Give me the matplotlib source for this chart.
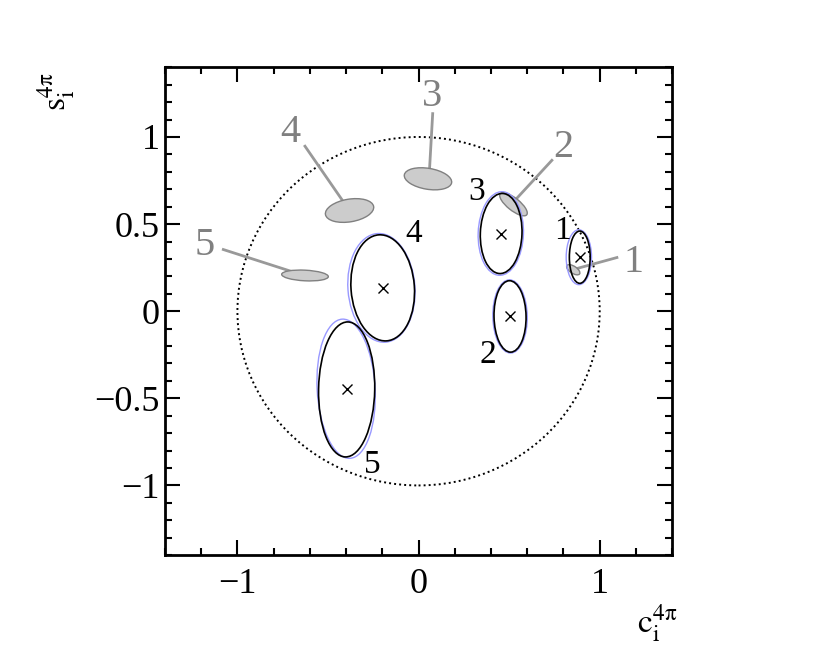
import numpy as np
import matplotlib.pyplot as plt
from matplotlib.patches import Ellipse, Circle
from matplotlib.ticker import MultipleLocator, FuncFormatter

plt.rcParams['font.family'] = ['Liberation Serif', 'DejaVu Serif']
plt.rcParams['mathtext.fontset'] = 'stix'

# Fitted solutions (black), alternative fit (blue)
labels = ['1', '2', '3', '4', '5']
fit_x = [0.89, 0.505, 0.456, -0.198, -0.397]
fit_y = [0.31, -0.03, 0.446, 0.134, -0.449]
fit_w = [0.115, 0.177, 0.23, 0.35, 0.31]
fit_h = [0.30, 0.41, 0.46, 0.61, 0.775]
fit_ang = [0, 1, -2, 4, -1]

alt_x = [0.885, 0.505, 0.454, -0.205, -0.400]
alt_y = [0.31, -0.03, 0.446, 0.134, -0.445]
alt_w = [0.14, 0.19, 0.25, 0.37, 0.32]
alt_h = [0.315, 0.42, 0.48, 0.625, 0.80]
alt_ang = [0, 1, -2, 4, 3]

fit_lab_x = [0.793, 0.384, 0.318, -0.025, -0.257]
fit_lab_y = [0.459, -0.252, 0.688, 0.442, -0.884]

# Previous measurement (grey)
ref_x = [0.854, 0.524, 0.052, -0.381, -0.627]
ref_y = [0.238, 0.614, 0.76, 0.578, 0.205]
ref_w = [0.085, 0.19, 0.265, 0.27, 0.258]
ref_h = [0.04, 0.07, 0.12, 0.13, 0.061]
ref_ang = [-35, -40, -10, 10, -3]

ref_lab_x = [1.185, 0.798, 0.075, -0.71, -1.18]
ref_lab_y = [0.281, 0.941, 1.233, 1.027, 0.379]
lead_x0 = [1.095, 0.736, 0.078, -0.627, -1.078]
lead_y0 = [0.308, 0.866, 1.134, 0.947, 0.354]
lead_x1 = [0.874, 0.546, 0.060, -0.421, -0.71]
lead_y1 = [0.245, 0.652, 0.805, 0.637, 0.231]

fig = plt.figure(figsize=(8.22, 6.47), dpi=100)
ax = fig.add_axes([0.2007, 0.142, 0.617, 0.754])

ax.add_patch(Circle((0, 0), 1, fill=False, ls=(0, (1, 1.6)), lw=1.4, color='black'))

for i in range(5):
    ax.add_patch(Ellipse((ref_x[i], ref_y[i]), ref_w[i], ref_h[i], angle=ref_ang[i],
                         facecolor='#cccccc', edgecolor='#808080', lw=1.0, zorder=2))
    ax.plot([lead_x0[i], lead_x1[i]], [lead_y0[i], lead_y1[i]], color='#999999', lw=2, zorder=1)
    ax.text(ref_lab_x[i], ref_lab_y[i], labels[i], color='#808080', fontsize=29,
            ha='center', va='center')

for i in range(5):
    ax.add_patch(Ellipse((alt_x[i], alt_y[i]), alt_w[i], alt_h[i], angle=alt_ang[i],
                         fill=False, edgecolor='#9999ff', lw=1.0, zorder=3))
    ax.add_patch(Ellipse((fit_x[i], fit_y[i]), fit_w[i], fit_h[i], angle=fit_ang[i],
                         fill=False, edgecolor='black', lw=1.2, zorder=4))
    ax.plot(fit_x[i], fit_y[i], marker='x', color='black', ms=7, mew=1.0, zorder=5)
    ax.text(fit_lab_x[i], fit_lab_y[i], labels[i], color='black', fontsize=24,
            ha='center', va='center')

ax.set_xlim(-1.4, 1.4)
ax.set_ylim(-1.4, 1.4)
ax.xaxis.set_major_locator(MultipleLocator(1))
ax.xaxis.set_minor_locator(MultipleLocator(0.2))
ax.yaxis.set_major_locator(MultipleLocator(0.5))
ax.yaxis.set_minor_locator(MultipleLocator(0.1))
fmt = FuncFormatter(lambda v, p: ('%g' % round(v, 2)).replace('-', '\u2212'))
ax.xaxis.set_major_formatter(fmt)
ax.yaxis.set_major_formatter(fmt)
ax.tick_params(which='both', direction='in', top=True, right=True, width=1.5, labelsize=26)
ax.tick_params(which='major', length=11)
ax.tick_params(which='minor', length=5)
ax.tick_params(axis='x', which='major', pad=9)
ax.tick_params(axis='y', which='major', pad=4)
for s in ax.spines.values():
    s.set_linewidth(2)

fig.text(0.068, 0.858, r'$\mathrm{s}_\mathrm{i}^{\mathrm{4\pi}}$', fontsize=24, rotation=90,
         ha='center', va='center')
fig.text(0.799, 0.037, r'$\mathrm{c}_\mathrm{i}^{\mathrm{4\pi}}$', fontsize=24, ha='center', va='center')

fig.savefig('out.png', dpi=100)
